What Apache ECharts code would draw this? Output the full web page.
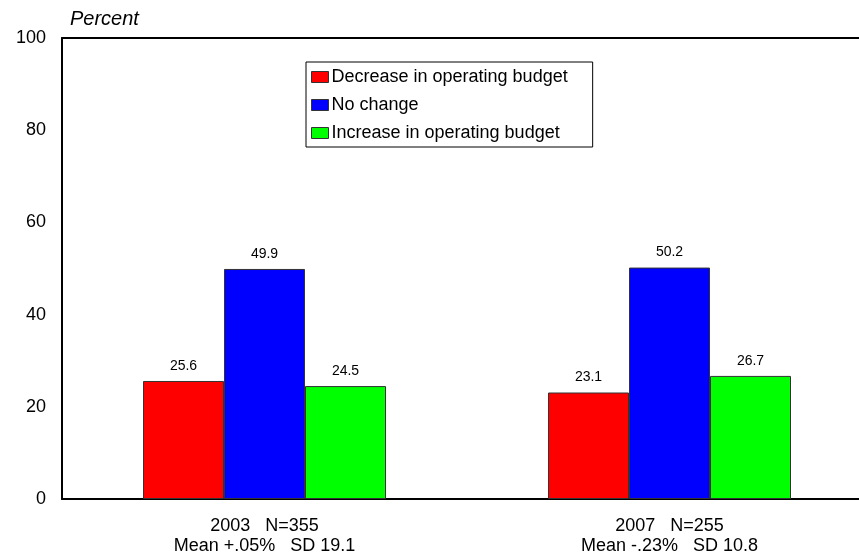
<!DOCTYPE html>
<html>
<head>
<meta charset="utf-8">
<script src="https://cdn.jsdelivr.net/npm/echarts@6/dist/echarts.min.js"></script>
<style>
  html, body { margin: 0; padding: 0; background: #fff; }
  #chart { width: 859px; height: 559px; }
</style>
</head>
<body>
<div id="chart"></div>
<script>
// Survey groups shown on the x axis
const categories = [
  '2003   N=355\nMean +.05%   SD 19.1',
  '2007   N=255\nMean -.23%   SD 10.8'
];
// Percent of respondents in each budget-change group
const decreaseValues = [25.6, 23.1];
const noChangeValues = [49.9, 50.2];
const increaseValues = [24.5, 26.7];
const seriesNames = ['Decrease in operating budget', 'No change', 'Increase in operating budget'];
const seriesColors = ['#ff0000', '#0000ff', '#00ff00'];
const yTicks = [0, 20, 40, 60, 80, 100];

const font = 'Arial, "Liberation Sans", sans-serif';
const chart = echarts.init(document.getElementById('chart'), null, { renderer: 'canvas' });

function barSeries(name, values, color) {
  return {
    name: name,
    type: 'bar',
    data: values,
    barWidth: 81,
    barGap: '0%',
    itemStyle: { color: color, borderColor: '#333', borderWidth: 1 },
    label: {
      show: true,
      position: 'top',
      distance: 8,
      color: '#000',
      fontFamily: font,
      fontSize: 14,
      formatter: p => p.value.toFixed(1)
    }
  };
}

chart.setOption({
  animation: false,
  backgroundColor: '#fff',
  grid: {
    left: 62, top: 38, width: 810, height: 461,
    containLabel: false,
    outerBoundsMode: 'none'
  },
  legend: {
    orient: 'vertical',
    left: 306,
    top: 62,
    data: seriesNames,
    itemWidth: 17,
    itemHeight: 11,
    itemGap: 10,
    padding: [6, 25, 5, 5],
    borderColor: '#000',
    borderWidth: 1,
    icon: 'rect',
    itemStyle: { borderColor: '#333', borderWidth: 1 },
    textStyle: { fontFamily: font, fontSize: 18, color: '#000', padding: [0, 0, 0, -2] }
  },
  xAxis: [
    {
      type: 'category',
      data: categories,
      position: 'bottom',
      axisLine: { show: true, lineStyle: { color: '#000', width: 2 } },
      axisTick: { show: false },
      axisLabel: {
        color: '#000',
        fontFamily: font,
        fontSize: 18,
        lineHeight: 20,
        margin: 17,
        interval: 0
      }
    },
    {
      type: 'category',
      data: categories,
      position: 'top',
      axisLine: { show: true, lineStyle: { color: '#000', width: 2 } },
      axisTick: { show: false },
      axisLabel: { show: false }
    }
  ],
  yAxis: {
    type: 'value',
    min: yTicks[0],
    max: yTicks[yTicks.length - 1],
    interval: 20,
    name: 'Percent',
    nameLocation: 'end',
    nameGap: 9,
    nameTextStyle: {
      fontFamily: font,
      fontSize: 20,
      fontStyle: 'italic',
      color: '#000',
      align: 'left',
      padding: [0, 0, 0, 8]
    },
    axisLine: { show: true, lineStyle: { color: '#000', width: 2 } },
    axisTick: { show: false },
    splitLine: { show: false },
    axisLabel: {
      color: '#000',
      fontFamily: font,
      fontSize: 18,
      margin: 16
    }
  },
  series: [
    barSeries(seriesNames[0], decreaseValues, seriesColors[0]),
    barSeries(seriesNames[1], noChangeValues, seriesColors[1]),
    barSeries(seriesNames[2], increaseValues, seriesColors[2])
  ]
});
</script>
</body>
</html>
